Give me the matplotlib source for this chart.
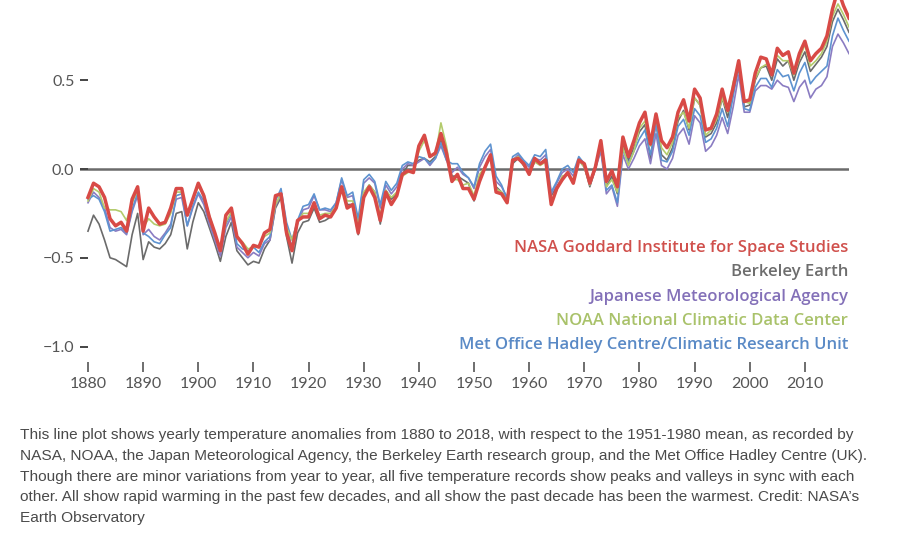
from matplotlib import pyplot as plt

years = list(range(1880, 2019))

nasa = [
    -0.16, -0.08, -0.10, -0.16, -0.28, -0.32, -0.30, -0.35, -0.17, -0.10,
    -0.35, -0.22, -0.27, -0.31, -0.30, -0.22, -0.11, -0.11, -0.26, -0.17,
    -0.08, -0.15, -0.27, -0.36, -0.46, -0.26, -0.22, -0.38, -0.42, -0.48,
    -0.43, -0.44, -0.36, -0.34, -0.15, -0.14, -0.36, -0.46, -0.29, -0.27,
    -0.27, -0.19, -0.28, -0.26, -0.27, -0.22, -0.10, -0.22, -0.20, -0.36,
    -0.16, -0.10, -0.16, -0.29, -0.13, -0.20, -0.15, -0.03, -0.01, -0.02,
    0.13, 0.19, 0.07, 0.09, 0.20, 0.09, -0.07, -0.03, -0.11, -0.11,
    -0.17, -0.07, 0.01, 0.08, -0.13, -0.14, -0.19, 0.05, 0.06, 0.03,
    -0.03, 0.06, 0.03, 0.05, -0.20, -0.11, -0.06, -0.02, -0.08, 0.05,
    0.03, -0.08, 0.01, 0.16, -0.07, -0.01, -0.10, 0.18, 0.07, 0.16,
    0.26, 0.32, 0.14, 0.31, 0.16, 0.12, 0.18, 0.32, 0.39, 0.27,
    0.45, 0.40, 0.22, 0.23, 0.31, 0.45, 0.33, 0.46, 0.61, 0.38,
    0.39, 0.54, 0.63, 0.62, 0.53, 0.68, 0.64, 0.66, 0.54, 0.65,
    0.72, 0.61, 0.65, 0.68, 0.75, 0.90, 1.01, 0.92, 0.85,
]

berkeley = [
    -0.35, -0.26, -0.31, -0.40, -0.50, -0.51, -0.53, -0.55, -0.37, -0.25,
    -0.51, -0.41, -0.44, -0.45, -0.42, -0.37, -0.25, -0.24, -0.45, -0.30,
    -0.19, -0.24, -0.33, -0.42, -0.52, -0.38, -0.30, -0.46, -0.50, -0.54,
    -0.52, -0.53, -0.45, -0.40, -0.22, -0.16, -0.38, -0.53, -0.36, -0.30,
    -0.29, -0.22, -0.30, -0.29, -0.27, -0.22, -0.10, -0.20, -0.20, -0.37,
    -0.14, -0.09, -0.13, -0.31, -0.12, -0.17, -0.14, -0.03, 0.02, 0.02,
    0.05, 0.06, 0.04, 0.07, 0.16, 0.09, -0.04, -0.04, -0.06, -0.08,
    -0.18, -0.05, 0.01, 0.07, -0.10, -0.13, -0.17, 0.03, 0.06, 0.02,
    -0.02, 0.04, 0.03, 0.06, -0.15, -0.10, -0.05, -0.03, -0.07, 0.06,
    0.02, -0.10, 0.00, 0.13, -0.10, -0.04, -0.14, 0.14, 0.05, 0.12,
    0.21, 0.25, 0.06, 0.27, 0.08, 0.05, 0.12, 0.27, 0.33, 0.22,
    0.40, 0.36, 0.18, 0.20, 0.26, 0.40, 0.29, 0.44, 0.57, 0.35,
    0.36, 0.50, 0.57, 0.58, 0.50, 0.62, 0.58, 0.61, 0.50, 0.60,
    0.66, 0.55, 0.59, 0.63, 0.69, 0.83, 0.90, 0.84, 0.77,
]

jma = [
    -0.19, -0.13, -0.16, -0.22, -0.33, -0.35, -0.34, -0.37, -0.24, -0.15,
    -0.37, -0.34, -0.38, -0.40, -0.36, -0.31, -0.17, -0.16, -0.32, -0.22,
    -0.14, -0.20, -0.31, -0.40, -0.49, -0.33, -0.27, -0.44, -0.47, -0.50,
    -0.47, -0.49, -0.42, -0.40, -0.21, -0.14, -0.33, -0.44, -0.31, -0.23,
    -0.22, -0.15, -0.23, -0.23, -0.24, -0.19, -0.06, -0.16, -0.15, -0.30,
    -0.08, -0.05, -0.08, -0.22, -0.09, -0.14, -0.10, 0.00, 0.03, 0.02,
    0.04, 0.06, 0.02, 0.06, 0.13, 0.05, -0.02, 0.01, -0.03, -0.05,
    -0.11, 0.01, 0.07, 0.11, -0.07, -0.10, -0.16, 0.05, 0.08, 0.04,
    0.01, 0.06, 0.05, 0.08, -0.14, -0.08, -0.02, 0.00, -0.04, 0.05,
    0.01, -0.09, 0.00, 0.10, -0.14, -0.10, -0.21, 0.08, 0.00, 0.06,
    0.13, 0.17, 0.03, 0.20, 0.02, 0.00, 0.06, 0.19, 0.23, 0.14,
    0.30, 0.26, 0.10, 0.13, 0.19, 0.29, 0.20, 0.35, 0.53, 0.32,
    0.32, 0.44, 0.47, 0.47, 0.45, 0.50, 0.47, 0.46, 0.38, 0.46,
    0.50, 0.40, 0.45, 0.47, 0.52, 0.69, 0.76, 0.71, 0.65,
]

noaa = [
    -0.18, -0.11, -0.13, -0.22, -0.23, -0.23, -0.24, -0.29, -0.19, -0.12,
    -0.33, -0.28, -0.31, -0.32, -0.31, -0.25, -0.13, -0.13, -0.26, -0.17,
    -0.10, -0.14, -0.26, -0.36, -0.45, -0.30, -0.24, -0.38, -0.41, -0.45,
    -0.44, -0.43, -0.38, -0.36, -0.20, -0.14, -0.33, -0.40, -0.30, -0.25,
    -0.25, -0.20, -0.26, -0.25, -0.25, -0.21, -0.10, -0.18, -0.18, -0.32,
    -0.13, -0.09, -0.13, -0.26, -0.12, -0.16, -0.13, -0.04, -0.02, -0.01,
    0.10, 0.16, 0.08, 0.08, 0.26, 0.13, -0.06, -0.06, -0.09, -0.08,
    -0.15, -0.03, 0.01, 0.07, -0.11, -0.13, -0.18, 0.05, 0.07, 0.02,
    -0.02, 0.04, 0.02, 0.04, -0.19, -0.12, -0.04, -0.03, -0.06, 0.05,
    0.01, -0.09, 0.01, 0.13, -0.10, -0.06, -0.13, 0.12, 0.02, 0.10,
    0.23, 0.27, 0.13, 0.30, 0.12, 0.08, 0.15, 0.29, 0.32, 0.23,
    0.40, 0.36, 0.19, 0.22, 0.28, 0.40, 0.32, 0.49, 0.60, 0.38,
    0.37, 0.51, 0.57, 0.59, 0.55, 0.64, 0.61, 0.61, 0.53, 0.62,
    0.70, 0.58, 0.61, 0.65, 0.72, 0.86, 0.93, 0.87, 0.80,
]

hadley = [
    -0.17, -0.15, -0.17, -0.24, -0.35, -0.34, -0.33, -0.36, -0.23, -0.13,
    -0.36, -0.38, -0.41, -0.42, -0.37, -0.33, -0.15, -0.14, -0.32, -0.21,
    -0.13, -0.18, -0.29, -0.38, -0.46, -0.31, -0.25, -0.42, -0.45, -0.46,
    -0.44, -0.47, -0.41, -0.38, -0.18, -0.11, -0.30, -0.40, -0.29, -0.21,
    -0.20, -0.14, -0.23, -0.22, -0.23, -0.19, -0.05, -0.15, -0.13, -0.28,
    -0.06, -0.03, -0.07, -0.20, -0.07, -0.12, -0.08, 0.02, 0.04, 0.03,
    0.07, 0.06, 0.03, 0.06, 0.15, 0.05, 0.03, 0.03, -0.02, -0.05,
    -0.10, 0.03, 0.10, 0.14, -0.04, -0.09, -0.17, 0.07, 0.09, 0.05,
    0.02, 0.08, 0.07, 0.11, -0.13, -0.07, 0.00, 0.02, -0.02, 0.07,
    0.03, -0.08, 0.02, 0.12, -0.12, -0.09, -0.19, 0.11, 0.03, 0.10,
    0.17, 0.22, 0.08, 0.25, 0.05, 0.04, 0.10, 0.24, 0.28, 0.19,
    0.34, 0.30, 0.15, 0.17, 0.23, 0.34, 0.24, 0.41, 0.58, 0.34,
    0.33, 0.46, 0.51, 0.51, 0.46, 0.56, 0.52, 0.53, 0.44, 0.54,
    0.60, 0.48, 0.52, 0.55, 0.58, 0.75, 0.85, 0.78, 0.72,
]

# (label, values, line colour, text colour, line width), drawn bottom to top
series = [
    ('Berkeley Earth', berkeley, '#6b6b6b', '#6d6d6d', 1.2),
    ('Japanese Meteorological Agency', jma, '#8a7cc2', '#8370b8', 1.2),
    ('Met Office Hadley Centre/Climatic Research Unit', hadley, '#5e93d0', '#5a8ac6', 1.2),
    ('NOAA National Climatic Data Center', noaa, '#b3cb6c', '#a9c26a', 1.2),
    ('NASA Goddard Institute for Space Studies', nasa, '#d84a46', '#d0504c', 2.5),
]
legend_order = [
    'NASA Goddard Institute for Space Studies',
    'Berkeley Earth',
    'Japanese Meteorological Agency',
    'NOAA National Climatic Data Center',
    'Met Office Hadley Centre/Climatic Research Unit',
]

y_ticks = [-1.0, -0.5, 0.0, 0.5]
y_tick_labels = ['\u22121.0', '\u22120.5', '0.0', '0.5']
x_ticks = list(range(1880, 2011, 10))

caption_lines = [
    'This line plot shows yearly temperature anomalies from 1880 to 2018, with respect to the 1951-1980 mean, as recorded by',
    'NASA, NOAA, the Japan Meteorological Agency, the Berkeley Earth research group, and the Met Office Hadley Centre (UK).',
    'Though there are minor variations from year to year, all five temperature records show peaks and valleys in sync with each',
    'other. All show rapid warming in the past few decades, and all show the past decade has been the warmest. Credit: NASA\u2019s',
    'Earth Observatory',
]

W, H = 900, 550
fig = plt.figure(figsize=(W / 100, H / 100), dpi=100)
ax = fig.add_axes([80 / W, (H - 362) / H, 769 / W, 362 / H])

ax.axhline(0, color='#6b6b6b', lw=1.8, zorder=1)
for i, (label, values, line_color, text_color, lw) in enumerate(series):
    ax.plot(years, values, color=line_color, lw=lw, solid_joinstyle='round', zorder=2 + i)

ax.set_xlim(1878.55, 2018)
ax.set_ylim(-1.087, 0.952)
for spine in ax.spines.values():
    spine.set_visible(False)

tick_font = dict(family=['Lato', 'DejaVu Sans'], size=11.5, color='#555555')
ax.set_yticks(y_ticks)
ax.set_yticklabels(y_tick_labels, **tick_font)
ax.tick_params(axis='y', direction='in', length=5.5, width=1.4, color='#444444', pad=4)
ax.set_xticks(x_ticks)
ax.set_xticklabels([str(x) for x in x_ticks], **tick_font)
ax.tick_params(axis='x', direction='out', length=7, width=1.2, color='#555555', pad=3.5)

colors = {label: text_color for label, _, _, text_color, _ in series}
for i, label in enumerate(legend_order):
    fig.text(848 / W, 1 - (248 + 24.3 * i) / H, label, ha='right', va='center',
             color=colors[label], fontsize=12, fontweight='semibold',
             family=['Open Sans', 'DejaVu Sans'])

for i, line in enumerate(caption_lines):
    fig.text(20 / W, 1 - (439.5 + 20.6 * i) / H, line, ha='left', va='baseline',
             color='#4a4a4a', fontsize=11.1, family=['Liberation Sans', 'DejaVu Sans'])

fig.savefig('out.png', dpi=100, facecolor='white')
